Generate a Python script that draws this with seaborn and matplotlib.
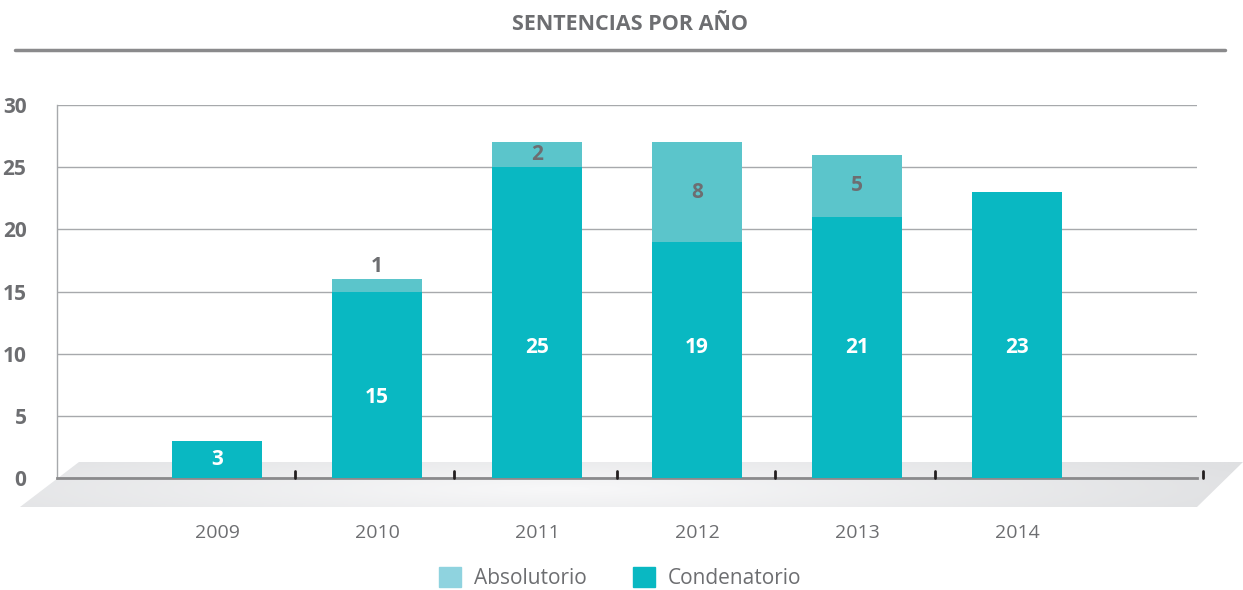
import numpy as np
import pandas as pd
import matplotlib
matplotlib.use("Agg")
import matplotlib.pyplot as plt
from matplotlib.colors import LinearSegmentedColormap
from matplotlib.patches import Polygon, Patch
import seaborn as sns

# Datos
years = ["2009", "2010", "2011", "2012", "2013", "2014"]
condenatorio = [3, 15, 25, 19, 21, 23]
absolutorio = [0, 1, 2, 8, 5, 0]

# altura donde van las etiquetas blancas (como en el original)
pos_etiqueta = [1.5, 6.5, 10.5, 10.5, 10.5, 10.5]

c_cond = "#09b8c2"
c_abs = "#5bc5cb"
c_abs_leg = "#8fd3df"
gris = "#6d6e71"

sns.set_theme(style="white")
plt.rcParams["font.family"] = ["Open Sans", "DejaVu Sans"]

df = pd.DataFrame({"anio": years, "cond": condenatorio, "abs": absolutorio})
df["total"] = df["cond"] + df["abs"]

W, H = 1243, 590
fig = plt.figure(figsize=(W / 100, H / 100), dpi=100)

# piso gris (decorativo) en coordenadas de pixeles
bg = fig.add_axes([0, 0, 1, 1], zorder=0)
bg.set_xlim(0, W)
bg.set_ylim(H, 0)
bg.axis("off")
piso = Polygon([(20, 507), (79, 462), (1243, 462), (1197, 507)], closed=True,
               facecolor="none", edgecolor="none")
bg.add_patch(piso)
xx, yy = np.meshgrid(np.linspace(0, 1, 300), np.linspace(0, 1, 30))
grad = np.clip(np.hypot((xx - 0.45) / 0.6, (yy - 0.6) / 1.2), 0, 1)
cmap_piso = LinearSegmentedColormap.from_list("piso", ["#f8f8f9", "#dfe0e2"])
im = bg.imshow(grad, extent=(0, W, 507, 462), cmap=cmap_piso, vmin=0, vmax=1,
               aspect="auto")
im.set_clip_path(piso)

# titulo y linea
bg.text(630, 25, "SENTENCIAS POR AÑO", ha="center", va="center",
        fontsize=15.5, fontweight="bold", color=gris)
bg.plot([15, 1225], [50, 50], color="#8a8a8c", lw=2.5)

ax = fig.add_axes([57 / W, 1 - 478 / H, (1197 - 57) / W, (478 - 105) / H], zorder=1)
ax.patch.set_alpha(0)

sns.barplot(data=df, x="anio", y="total", color=c_abs, width=0.5625,
            saturation=1, linewidth=0, ax=ax, zorder=3)
sns.barplot(data=df, x="anio", y="cond", color=c_cond, width=0.5625,
            saturation=1, linewidth=0, ax=ax, zorder=3)

ax.set_xlim(-1.0, 6.125)
ax.set_ylim(0, 30)
ax.set_yticks(range(0, 31, 5))
ax.yaxis.grid(True, color="#a7a9ac", lw=1)
ax.set_axisbelow(True)
ax.set_xlabel("")
ax.set_ylabel("")

for s in ["top", "right"]:
    ax.spines[s].set_visible(False)
ax.spines["left"].set_color("#a7a9ac")
ax.spines["left"].set_linewidth(1)
ax.spines["bottom"].set_color("#8a8a8c")
ax.spines["bottom"].set_linewidth(2)

ax.tick_params(axis="y", length=0, pad=22, labelsize=15, labelcolor=gris)
for t in ax.get_yticklabels():
    t.set_fontweight("bold")
ax.tick_params(axis="x", length=0, pad=33, labelsize=14, labelcolor=gris)

# marcas negras sobre el eje
for xm in [0.49, 1.48, 2.5, 3.49, 4.49, 6.16]:
    ax.plot([xm, xm], [0, 0.6], color="#231f20", lw=2, clip_on=False, zorder=4)

# etiquetas de valores
for i, (c, a) in enumerate(zip(condenatorio, absolutorio)):
    ax.text(i, pos_etiqueta[i], str(c), ha="center", va="center", color="white",
            fontsize=15, fontweight="bold", zorder=5)
    if a > 0:
        ya = c + a / 2 if a >= 2 else c + a + 1
        ax.text(i, ya, str(a), ha="center", va="center", color=gris,
                fontsize=15, fontweight="bold", zorder=5)

handles = [Patch(color=c_abs_leg, label="Absolutorio"),
           Patch(color=c_cond, label="Condenatorio")]
fig.legend(handles=handles, loc="center", bbox_to_anchor=(620 / W, 1 - 578 / H),
           ncol=2, frameon=False, fontsize=15, labelcolor=gris,
           handlelength=1.1, handleheight=1.1, columnspacing=2.2, handletextpad=0.6)

fig.savefig("out.png", dpi=100)
